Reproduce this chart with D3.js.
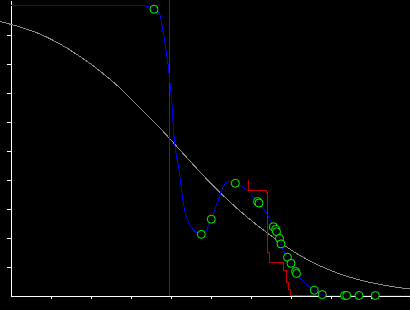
<!DOCTYPE html>
<html>
<head>
<meta charset="utf-8">
<script src="https://cdn.jsdelivr.net/npm/d3@7"></script>
<style>
  body { margin: 0; background: #000; }
  #chart svg { display: block; }
</style>
</head>
<body>
<div id="chart"></div>
<script>
// smooth density-type curve (blue)
var blueX = [0, 3.2375, 3.4625, 3.5875, 3.655, 3.7375, 3.7625, 3.82, 3.8875, 3.945, 3.9875, 4.03, 4.075, 4.125, 4.17,
             4.2375, 4.32, 4.445, 4.57, 4.77, 4.905, 5.02, 5.195, 5.32, 5.42, 5.53, 5.62, 5.905, 6.1875, 6.405,
             6.57, 6.6375, 6.73, 6.7625, 6.92, 7.02, 7.13, 7.155, 7.3625, 7.5875, 7.795, 7.9125, 10];
var blueY = [1, 1, 0.996, 0.987, 0.984, 0.967, 0.95, 0.905, 0.847, 0.789, 0.733, 0.674, 0.571, 0.502, 0.467,
             0.41, 0.318, 0.254, 0.226, 0.211, 0.226, 0.263, 0.329, 0.375, 0.392, 0.392, 0.387, 0.364, 0.322, 0.283,
             0.241, 0.222, 0.197, 0.177, 0.132, 0.111, 0.082, 0.075, 0.043, 0.018, 0.003, 0, 0];

// observed points (green rings)
var pointX = [3.5875, 4.77, 5.02, 5.62, 6.175, 6.2125, 6.57, 6.63, 6.65, 6.725, 6.7625, 6.925, 7.0125, 7.125, 7.15,
              7.595, 7.795, 8.35, 8.405, 8.7125, 9.12];
var pointY = [0.987, 0.211, 0.263, 0.387, 0.324, 0.319, 0.237, 0.228, 0.22, 0.197, 0.178, 0.132, 0.111, 0.083, 0.076,
              0.018, 0.003, 0, 0, 0, 0];

// step curve (red)
var stepX = [5.95, 5.95, 6.4, 6.425, 6.475, 6.825, 6.8875, 6.95, 6.9875, 7.9875];
var stepY = [0.4, 0.362, 0.355, 0.148, 0.114, 0.086, 0.045, 0.022, 0, 0];

// fitted curve (gray)
var fitX = [-0.2625, 0.2375, 0.7375, 1.2375, 1.7375, 2.2375, 2.7375, 3.2375, 3.7375, 4.2375, 4.7375, 5.2375,
            5.7375, 6.4875, 7.2375, 8.2375, 9.2375, 9.9875];
var fitY = [0.9448, 0.9259, 0.9017, 0.8672, 0.8241, 0.7741, 0.7155, 0.6466, 0.5776, 0.5017, 0.4259, 0.3552,
            0.2914, 0.2086, 0.1379, 0.0741, 0.0379, 0.0224];

// vertical marker
var markX = 3.975;

var xTicks = [1, 2, 3, 4, 5, 6, 7, 8, 9];
var yTicks = [0.1, 0.2, 0.3, 0.4, 0.5, 0.6, 0.7, 0.8, 0.9];

//Width and height
var w = 410;
var h = 310;

var svg = d3.select("#chart")
            .append("svg")
            .attr("width", w)
            .attr("height", h)
            .style("background", "#000");

var x = d3.scaleLinear().domain([0, 10]).range([10.5, 410.5]);
var y = d3.scaleLinear().domain([0, 1.019]).range([295.5, 0]);

function zip(xs, ys) {
  return xs.map(function(v, i) { return [v, ys[i]]; });
}

// axes, no labels
svg.append("g")
   .attr("transform", "translate(0,295.5)")
   .call(d3.axisBottom(x).tickValues(xTicks).tickSize(3).tickSizeOuter(0).tickFormat(""))
   .call(function(g) { g.selectAll("line, path").attr("stroke", "#fff").attr("shape-rendering", "crispEdges"); });

svg.append("g")
   .attr("transform", "translate(10.5,0)")
   .call(d3.axisLeft(y).tickValues(yTicks).tickSize(4).tickSizeOuter(0).tickFormat(""))
   .call(function(g) { g.selectAll("line, path").attr("stroke", "#fff").attr("shape-rendering", "crispEdges"); });

// fitted curve
svg.append("path")
   .datum(zip(fitX, fitY))
   .attr("fill", "none")
   .attr("stroke", "#8c8c8c")
   .attr("stroke-width", 1)
   .attr("shape-rendering", "crispEdges")
   .attr("d", d3.line().x(function(d) { return x(d[0]); }).y(function(d) { return y(d[1]); }).curve(d3.curveMonotoneX));

// marker line
svg.append("line")
   .attr("x1", x(markX)).attr("x2", x(markX))
   .attr("y1", y(1.019)).attr("y2", y(0))
   .attr("stroke", "#800080")
   .attr("shape-rendering", "crispEdges");

// step curve
svg.append("path")
   .datum(zip(stepX, stepY))
   .attr("fill", "none")
   .attr("stroke", "#c80000")
   .attr("stroke-width", 1)
   .attr("shape-rendering", "crispEdges")
   .attr("d", d3.line().x(function(d) { return x(d[0]); }).y(function(d) { return y(d[1]); }).curve(d3.curveStepAfter));

// smooth curve
svg.append("path")
   .datum(zip(blueX, blueY))
   .attr("fill", "none")
   .attr("stroke", "#0000ff")
   .attr("stroke-width", 1)
   .attr("shape-rendering", "crispEdges")
   .attr("d", d3.line().x(function(d) { return x(d[0]); }).y(function(d) { return y(d[1]); }).curve(d3.curveMonotoneX));

// rings
var pts = svg.selectAll("g.pt")
   .data(zip(pointX, pointY))
   .enter()
   .append("g")
   .attr("class", "pt")
   .attr("transform", function(d) { return "translate(" + x(d[0]) + "," + y(d[1]) + ")"; });

pts.append("circle")
   .attr("r", 4)
   .attr("fill", "#000")
   .attr("stroke", "#00ff00")
   .attr("stroke-width", 1);

pts.append("rect")
   .attr("x", -0.5).attr("y", -0.5)
   .attr("width", 1).attr("height", 1)
   .attr("fill", "#0000ff");
</script>
</body>
</html>
